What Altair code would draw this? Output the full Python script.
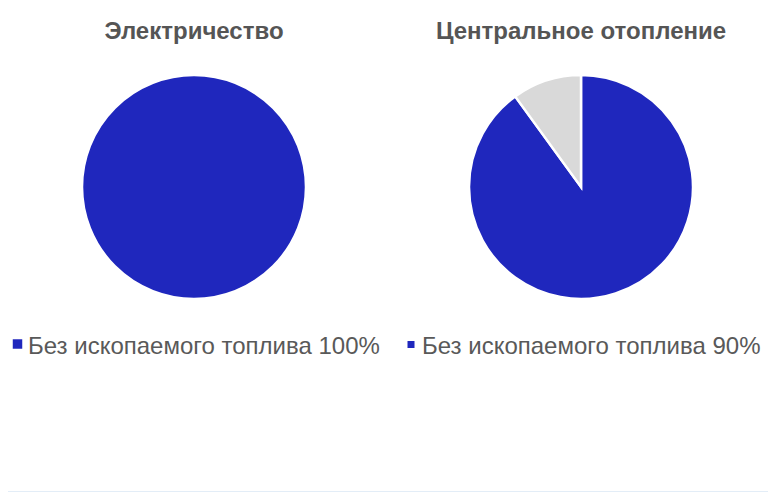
import altair as alt
import pandas as pd

titles = ["Электричество", "Центральное отопление"]
categories = ["Без ископаемого топлива", "Прочее"]
elec_values = [100, 0]
heat_values = [90, 10]
legend_labels = ["Без ископаемого топлива 100%", "Без ископаемого топлива 90%"]

BLUE = "#1f27bd"
GRAY = "#d9d9d9"
TXT = "#595959"

df_e = pd.DataFrame({"cat": categories, "val": elec_values, "order": [0, 1]})
df_e = df_e[df_e["val"] > 0]
df_h = pd.DataFrame({"cat": categories, "val": heat_values, "order": [0, 1]})

color = alt.Color("cat:N", scale=alt.Scale(domain=categories, range=[BLUE, GRAY]), legend=None)

def pie(df, cx, cy):
    return alt.Chart(df).mark_arc(outerRadius=112, stroke="white", strokeWidth=2.5).encode(
        theta=alt.Theta("val:Q", stack=True),
        order=alt.Order("order:Q"),
        color=color,
        x=alt.value(cx), y=alt.value(cy),
    )

pie_e = pie(df_e, 186, 179)
pie_h = pie(df_h, 573, 179)

tdf = pd.DataFrame({"t": titles, "x": [186, 573]})
title_layer = alt.Chart(tdf).mark_text(
    font="Liberation Sans", fontWeight="bold", fontSize=24, color="#555555", baseline="middle", align="center"
).encode(text="t:N", x=alt.X("x:Q", scale=None), y=alt.value(24))

ldf = pd.DataFrame({"t": legend_labels, "x": [20, 414]})
legend_text = alt.Chart(ldf).mark_text(
    font="Liberation Sans", fontSize=24, color=TXT, baseline="alphabetic", align="left"
).encode(text="t:N", x=alt.X("x:Q", scale=None), y=alt.value(346))

sq1 = alt.Chart(pd.DataFrame({"x": [9.5]})).mark_square(size=90, color=BLUE, opacity=1).encode(
    x=alt.X("x:Q", scale=None), y=alt.value(336))
sq2 = alt.Chart(pd.DataFrame({"x": [403]})).mark_square(size=49, color=BLUE, opacity=1).encode(
    x=alt.X("x:Q", scale=None), y=alt.value(336.5))

strip = alt.Chart(pd.DataFrame({"a": [0]})).mark_rect(color="#f3f6fa", stroke="#e3edf7", strokeWidth=1).encode(
    x=alt.value(-8), x2=alt.value(768), y=alt.value(483.5), y2=alt.value(500))

chart = alt.layer(strip, pie_e, pie_h, title_layer, legend_text, sq1, sq2).properties(
    width=760, height=484, padding=0, autosize="none", background="white"
).configure_view(stroke=None)

chart.save("out.html", embed_options={"renderer": "svg", "actions": False})
